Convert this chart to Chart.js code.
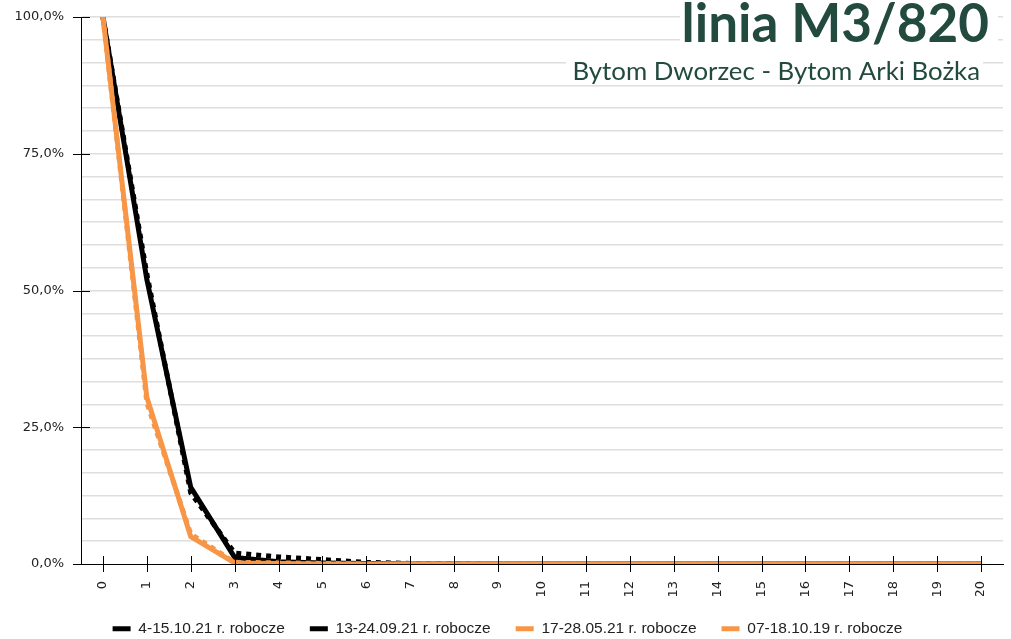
<!DOCTYPE html>
<html>
<head>
<meta charset="utf-8">
<script src="https://cdn.jsdelivr.net/npm/chart.js@4"></script>
<style>
  html, body { margin: 0; padding: 0; background: #fff; }
  #wrap { width: 1011px; height: 639px; }
</style>
</head>
<body>
<div id="wrap"><canvas id="przesiadki"></canvas></div>
<script>
// kolejne przystanki od poczatku kursu
var stops = ["0","1","2","3","4","5","6","7","8","9","10","11","12","13","14","15","16","17","18","19","20"];

// odsetek pasazerow pozostajacych w pojezdzie [%]
var okt21 = [100, 52, 14, 1.2, 0.4, 0.2, 0.1, 0, 0, 0, 0, 0, 0, 0, 0, 0, 0, 0, 0, 0, 0];
var wrz21 = [100, 53, 13, 2, 1.3, 0.8, 0.3, 0.1, 0.1, 0, 0, 0, 0, 0, 0, 0, 0, 0, 0, 0, 0];
var maj21 = [100, 30.5, 5, 0.2, 0.1, 0, 0, 0, 0, 0, 0, 0, 0, 0, 0, 0, 0, 0, 0, 0, 0];
var okt19 = [100, 29.5, 5.5, 0.3, 0.2, 0.1, 0, 0, 0, 0, 0, 0, 0, 0, 0, 0, 0, 0, 0, 0, 0];

var seriesNames = ["4-15.10.21 r. robocze", "13-24.09.21 r. robocze", "17-28.05.21 r. robocze", "07-18.10.19 r. robocze"];

var BLACK = "#000000";
var ORANGE = "#f79646";
var GREEN = "#224a3e";

// naglowek z numerem linii w prawym gornym rogu
var headerPlugin = {
  id: "header",
  afterDraw: function(chart) {
    var ctx = chart.ctx;
    ctx.save();
    ctx.fillStyle = "#ffffff";
    ctx.fillRect(680, 0, 318, 50);
    ctx.fillRect(566, 52, 417, 33);
    ctx.fillStyle = GREEN;
    ctx.textAlign = "right";
    ctx.textBaseline = "alphabetic";
    ctx.font = "bold 53px Lato";
    ctx.fillText("linia M3/820", 989, 42);
    ctx.font = "25.8px Lato";
    ctx.fillText("Bytom Dworzec - Bytom Arki Bożka", 980, 80);
    ctx.restore();
  }
};

// znaczniki osi przecinajace linie osi
var tickMarks = {
  id: "tickMarks",
  afterDatasetsDraw: function(chart) {
    var ctx = chart.ctx;
    var area = chart.chartArea;
    var xs = chart.scales.x, ys = chart.scales.y;
    ctx.save();
    ctx.strokeStyle = "#000";
    ctx.lineWidth = 1;
    ctx.beginPath();
    xs.ticks.forEach(function(t, i) {
      var px = Math.round(xs.getPixelForTick(i)) + 0.5;
      ctx.moveTo(px, area.bottom - 8);
      ctx.lineTo(px, area.bottom + 8);
    });
    ys.ticks.forEach(function(t) {
      if (Math.abs(t.value % 25) < 0.01 || Math.abs(t.value % 25 - 25) < 0.01) {
        var py = Math.round(ys.getPixelForValue(t.value)) + 0.5;
        ctx.moveTo(area.left - 8, py);
        ctx.lineTo(area.left + 9, py);
      }
    });
    ctx.stroke();
    ctx.restore();
  }
};

function line(label, data, color, dash, order) {
  return {
    label: label,
    data: data,
    borderColor: color,
    backgroundColor: color,
    borderWidth: 5,
    borderDash: dash,
    borderCapStyle: "butt",
    pointRadius: 0,
    tension: 0,
    fill: false,
    order: order
  };
}

var ctx = document.getElementById("przesiadki");
var chart = new Chart(ctx, {
  type: "line",
  data: {
    labels: stops,
    datasets: [
      line(seriesNames[0], okt21, BLACK, [], 3),
      line(seriesNames[1], wrz21, BLACK, [5, 5], 4),
      line(seriesNames[2], maj21, ORANGE, [], 1),
      line(seriesNames[3], okt19, ORANGE, [5, 5], 2)
    ]
  },
  options: {
    responsive: true,
    maintainAspectRatio: false,
    animation: false,
    layout: { padding: { left: 4, right: 0, top: 17, bottom: -7.5 } },
    plugins: {
      tooltip: { enabled: false },
      title: { display: false },
      legend: {
        position: "bottom",
        labels: {
          usePointStyle: true,
          pointStyle: "line",
          pointStyleWidth: 18,
          padding: 25,
          color: "#222",
          font: { family: "Liberation Sans", size: 15.5 },
          sort: function(a, b) { return a.datasetIndex - b.datasetIndex; }
        }
      }
    },
    scales: {
      x: {
        offset: true,
        grid: { display: false, drawTicks: false },
        border: { display: true, color: "#000", width: 1 },
        ticks: {
          color: "#222",
          padding: 17,
          maxRotation: 90,
          minRotation: 90,
          autoSkip: false,
          font: { family: "DejaVu Sans", size: 13 }
        },
        afterFit: function(scale) {
          scale.height = 32;
          scale.paddingLeft = 0;
          scale.paddingRight = 8;
        }
      },
      y: {
        min: 0,
        max: 100,
        grid: {
          color: function(c) { return c.tick && c.tick.value === 0 ? "rgba(0,0,0,0)" : "#dedede"; },
          lineWidth: 1.5,
          drawTicks: false
        },
        border: { display: true, color: "#000", width: 1 },
        ticks: {
          stepSize: 25 / 6,
          padding: 17,
          color: "#222",
          font: { family: "DejaVu Sans", size: 13 },
          callback: function(v) {
            var r = v / 25;
            if (Math.abs(r - Math.round(r)) > 0.001) return "";
            return (Math.round(v * 10) / 10).toFixed(1).replace(".", ",") + "%";
          }
        },
        afterFit: function(scale) {
          scale.width = 77;
          scale.paddingTop = 0;
          scale.paddingBottom = 0;
        }
      }
    }
  },
  plugins: [tickMarks, headerPlugin]
});
</script>
</body>
</html>
